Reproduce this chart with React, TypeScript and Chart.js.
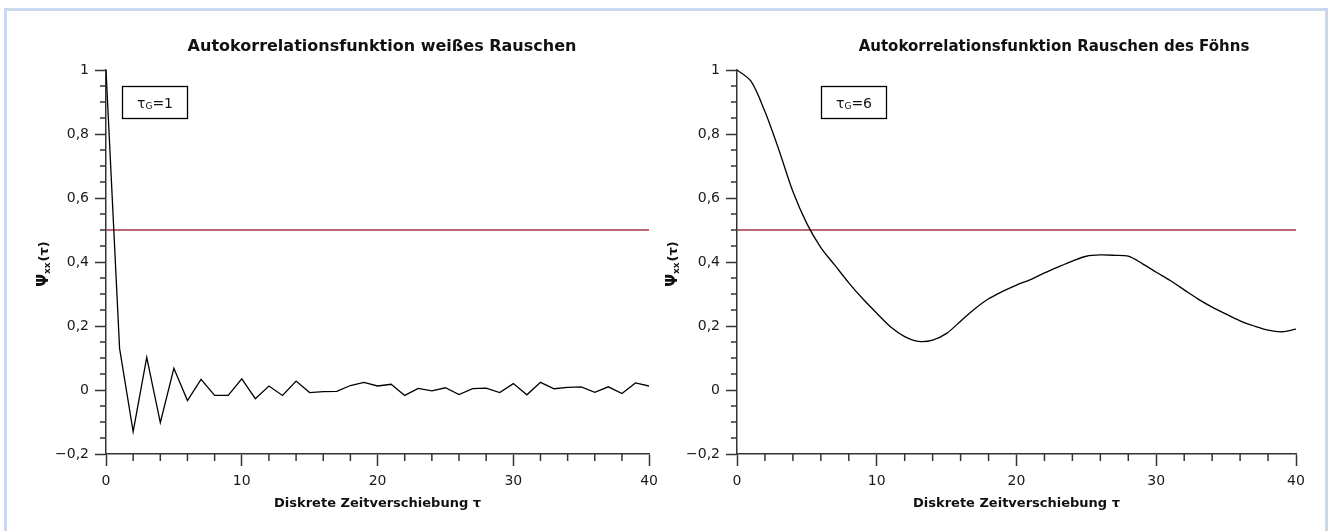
import React, { useEffect, useRef } from 'react';
import { Chart, registerables } from 'chart.js';

Chart.register(...registerables);

// ---------- data ----------
const lags = [
  0, 1, 2, 3, 4, 5, 6, 7, 8, 9, 10, 11, 12, 13, 14, 15, 16, 17, 18, 19, 20,
  21, 22, 23, 24, 25, 26, 27, 28, 29, 30, 31, 32, 33, 34, 35, 36, 37, 38, 39, 40,
];

const whiteNoiseAcf = [
  1.0, 0.13, -0.13, 0.102, -0.102, 0.068, -0.033, 0.033, -0.017, -0.017, 0.035,
  -0.027, 0.0125, -0.017, 0.028, -0.008, -0.005, -0.004, 0.014, 0.024, 0.0125,
  0.018, -0.017, 0.005, -0.003, 0.007, -0.014, 0.004, 0.006, -0.008, 0.02,
  -0.015, 0.024, 0.004, 0.008, 0.01, -0.007, 0.01, -0.011, 0.022, 0.0125,
];

const foehnAcf = [
  1.0, 0.965, 0.87, 0.75, 0.62, 0.52, 0.445, 0.39, 0.335, 0.285, 0.24,
  0.197, 0.167, 0.152, 0.156, 0.177, 0.215, 0.253, 0.285, 0.308, 0.328,
  0.345, 0.366, 0.385, 0.403, 0.418, 0.422, 0.421, 0.418, 0.395, 0.368,
  0.342, 0.313, 0.284, 0.259, 0.237, 0.216, 0.2, 0.187, 0.182, 0.19,
];

const thresholdLags = [0, 40];
const thresholdValues = [0.5, 0.5];

const chartTitles = [
  'Autokorrelationsfunktion weißes Rauschen',
  'Autokorrelationsfunktion Rauschen des Föhns',
];
const tauGValues = ['1', '6'];
const xAxisTitle = 'Diskrete Zeitverschiebung τ';
const xRange = [0, 40];
const yRange = [-0.2, 1];
const xMajorStep = 10;
const xMinorStep = 2;
const yMajorStep = 0.2;
const yMinorStep = 0.05;

const FONT = '"DejaVu Sans", "Lucida Grande", sans-serif';

function formatTick(v: number): string {
  const r = Math.round(v * 10) / 10;
  if (Math.abs(r) < 1e-9) return '0';
  const s = Math.abs(r).toString().replace('.', ',');
  return (r < 0 ? '−' : '') + s;
}

const decorPlugin = {
  id: 'decor',
  afterDraw(chart: any, _args: any, opts: any) {
    const { ctx, chartArea, scales } = chart;
    const xs = scales.x;
    const ys = scales.y;
    ctx.save();
    ctx.strokeStyle = '#333';
    ctx.lineWidth = 1.5;
    // minor y ticks
    const nY = Math.round((yRange[1] - yRange[0]) / yMinorStep);
    const majEvery = Math.round(yMajorStep / yMinorStep);
    for (let i = 0; i <= nY; i++) {
      if (i % majEvery === 0) continue;
      const v = yRange[0] + i * yMinorStep;
      const py = ys.getPixelForValue(v);
      ctx.beginPath();
      ctx.moveTo(chartArea.left - 6, py);
      ctx.lineTo(chartArea.left, py);
      ctx.stroke();
    }
    // minor x ticks
    const nX = Math.round((xRange[1] - xRange[0]) / xMinorStep);
    const majX = Math.round(xMajorStep / xMinorStep);
    for (let i = 0; i <= nX; i++) {
      if (i % majX === 0) continue;
      const v = xRange[0] + i * xMinorStep;
      const px = xs.getPixelForValue(v);
      ctx.beginPath();
      ctx.moveTo(px, chartArea.bottom);
      ctx.lineTo(px, chartArea.bottom + 7);
      ctx.stroke();
    }

    // chart title
    ctx.fillStyle = '#111';
    ctx.font = `bold ${opts.titleSize}px ${FONT}`;
    ctx.textAlign = 'center';
    ctx.textBaseline = 'middle';
    ctx.fillText(opts.title, opts.titleX, 47);

    // y axis title  Ψxx(τ)
    const midY = (chartArea.top + chartArea.bottom) / 2;
    ctx.save();
    ctx.translate(opts.yTitleX, midY + 2);
    ctx.rotate(-Math.PI / 2);
    ctx.textAlign = 'left';
    ctx.textBaseline = 'alphabetic';
    const f1 = `bold 15px ${FONT}`;
    const f2 = `bold 9px ${FONT}`;
    const f3 = `bold 13px ${FONT}`;
    ctx.font = f1;
    const w1 = ctx.measureText('Ψ').width;
    ctx.font = f2;
    const w2 = ctx.measureText('xx').width;
    ctx.font = f3;
    const w3 = ctx.measureText('(τ)').width;
    let cx = -(w1 + w2 + w3 + 1) / 2;
    const base = 5;
    ctx.font = f1;
    ctx.fillText('Ψ', cx, base);
    cx += w1;
    ctx.font = f2;
    ctx.fillText('xx', cx, base + 2);
    cx += w2 + 1;
    ctx.font = f3;
    ctx.fillText('(τ)', cx, base);
    ctx.restore();

    // τG box
    const bx = chartArea.left + opts.boxOffset;
    const by = 86;
    const bw = 65;
    const bh = 32;
    ctx.strokeStyle = '#000';
    ctx.lineWidth = 1.3;
    ctx.strokeRect(bx + 0.5, by + 0.5, bw, bh);
    ctx.fillStyle = '#111';
    ctx.textBaseline = 'alphabetic';
    ctx.textAlign = 'left';
    const t1 = `14px ${FONT}`;
    const t2 = `9px ${FONT}`;
    ctx.font = t1;
    const a = ctx.measureText('τ').width;
    const c = ctx.measureText('=' + opts.tauG).width;
    ctx.font = t2;
    const b = ctx.measureText('G').width;
    let tx = bx + bw / 2 - (a + b + c) / 2 + 0.5;
    const ty = by + bh / 2 + 6;
    ctx.font = t1;
    ctx.fillText('τ', tx, ty);
    tx += a;
    ctx.font = t2;
    ctx.fillText('G', tx, ty + 1);
    tx += b;
    ctx.font = t1;
    ctx.fillText('=' + opts.tauG, tx, ty);

    ctx.restore();
  },
};

type PanelProps = {
  left: number;
  width: number;
  yAxisWidth: number;
  padRight: number;
  values: number[];
  title: string;
  titleX: number;
  titleSize: number;
  yTitleX: number;
  boxOffset: number;
  tauG: string;
  tension: number;
};

function AcfPanel(p: PanelProps) {
  const ref = useRef<HTMLCanvasElement | null>(null);
  useEffect(() => {
    if (!ref.current) return;
    const chart = new Chart(ref.current, {
      type: 'line',
      data: {
        datasets: [
          {
            data: lags.map((l, i) => ({ x: l, y: p.values[i] })),
            borderColor: '#000',
            borderWidth: 1.3,
            pointRadius: 0,
            tension: p.tension,
            fill: false,
          },
          {
            data: thresholdLags.map((l, i) => ({ x: l, y: thresholdValues[i] })),
            borderColor: '#a63446',
            borderWidth: 1.5,
            pointRadius: 0,
            fill: false,
          },
        ],
      },
      plugins: [decorPlugin],
      options: {
        animation: false,
        responsive: false,
        maintainAspectRatio: false,
        devicePixelRatio: 1,
        layout: { padding: { top: 70, right: p.padRight, bottom: 0, left: 0 } },
        plugins: {
          legend: { display: false },
          tooltip: { enabled: false },
          title: { display: false },
          decor: {
            title: p.title,
            titleX: p.titleX,
            titleSize: p.titleSize,
            yTitleX: p.yTitleX,
            boxOffset: p.boxOffset,
            tauG: p.tauG,
          },
        } as any,
        scales: {
          x: {
            type: 'linear',
            min: xRange[0],
            max: xRange[1],
            afterFit: (s: any) => {
              s.height = 77;
            },
            ticks: {
              stepSize: xMajorStep,
              autoSkip: false,
              maxRotation: 0,
              padding: 7,
              color: '#1a1a1a',
              font: { family: FONT, size: 14 },
              callback: (v: any) => String(v),
            },
            grid: {
              drawOnChartArea: false,
              drawTicks: true,
              tickLength: 12,
              tickWidth: 1.5,
              tickColor: '#333',
            },
            border: { display: true, color: '#333', width: 1.5 },
            title: {
              display: true,
              text: xAxisTitle,
              color: '#111',
              font: { family: FONT, size: 13, weight: 'bold' },
              padding: { top: 0, bottom: 20 },
            },
          },
          y: {
            type: 'linear',
            min: yRange[0],
            max: yRange[1],
            afterFit: (s: any) => {
              s.width = p.yAxisWidth;
            },
            ticks: {
              stepSize: yMajorStep,
              padding: 6,
              color: '#1a1a1a',
              font: { family: FONT, size: 14 },
              callback: (v: any) => formatTick(Number(v)),
            },
            grid: {
              drawOnChartArea: false,
              drawTicks: true,
              tickLength: 11,
              tickWidth: 1.5,
              tickColor: '#333',
            },
            border: { display: true, color: '#333', width: 1.5 },
          },
        },
      } as any,
    });
    return () => chart.destroy();
  }, []);
  return (
    <canvas
      ref={ref}
      width={p.width}
      height={531}
      style={{ position: 'absolute', left: p.left, top: 0, width: p.width, height: 531 }}
    />
  );
}

export default function App() {
  return (
    <div
      style={{
        position: 'absolute',
        left: 0,
        top: 0,
        width: 1330,
        height: 531,
        background: '#fff',
        overflow: 'hidden',
      }}
    >
      <div
        style={{
          position: 'absolute',
          left: 4,
          top: 8,
          width: 1318,
          height: 600,
          border: '3px solid #c9d8ef',
          boxSizing: 'content-box',
        }}
      />
      <AcfPanel
        left={0}
        width={665}
        yAxisWidth={106}
        padRight={14}
        values={whiteNoiseAcf}
        title={chartTitles[0]}
        titleX={382}
        titleSize={16}
        yTitleX={43}
        boxOffset={16}
        tauG={tauGValues[0]}
        tension={0}
      />
      <AcfPanel
        left={660}
        width={670}
        yAxisWidth={77}
        padRight={34}
        values={foehnAcf}
        title={chartTitles[1]}
        titleX={394}
        titleSize={15}
        yTitleX={12}
        boxOffset={84}
        tauG={tauGValues[1]}
        tension={0.3}
      />
    </div>
  );
}
